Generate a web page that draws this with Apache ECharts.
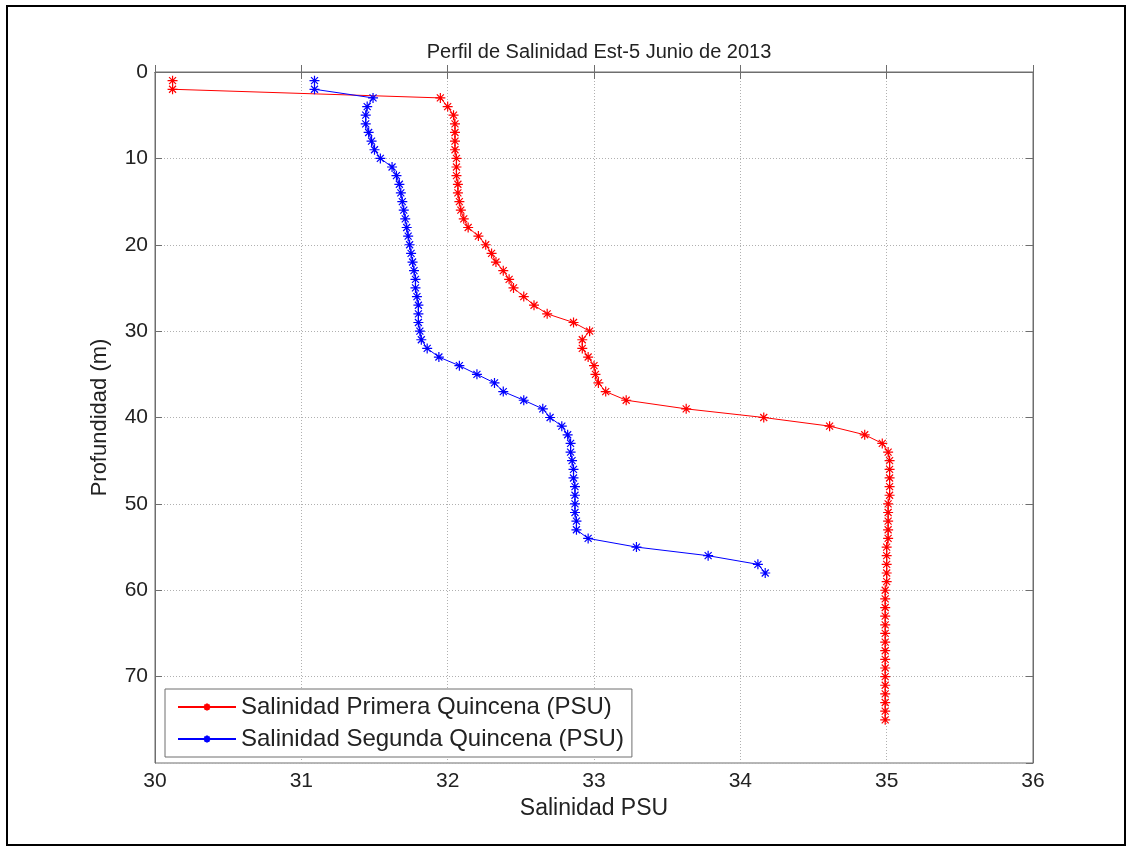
<!DOCTYPE html>
<html>
<head>
<meta charset="utf-8">
<script src="https://cdn.jsdelivr.net/npm/echarts@6/dist/echarts.min.js"></script>
<style>html,body{margin:0;padding:0;background:#fff;}#c{width:1133px;height:852px;}</style>
</head>
<body>
<div id="c"></div>
<script>
const depthPrimera = [1,2,3,4,5,6,7,8,9,10,11,12,13,14,15,16,17,18,19,20,21,22,23,24,25,26,27,28,29,30,31,32,33,34,35,36,37,38,39,40,41,42,43,44,45,46,47,48,49,50,51,52,53,54,55,56,57,58,59,60,61,62,63,64,65,66,67,68,69,70,71,72,73,74,75];
const salPrimera = [30.12,30.12,31.95,32.00,32.04,32.05,32.05,32.05,32.05,32.06,32.06,32.06,32.07,32.07,32.08,32.09,32.11,32.14,32.21,32.26,32.30,32.33,32.38,32.42,32.45,32.52,32.59,32.68,32.86,32.97,32.92,32.92,32.96,33.00,33.01,33.03,33.08,33.22,33.63,34.16,34.61,34.85,34.97,35.01,35.02,35.02,35.02,35.02,35.02,35.01,35.01,35.01,35.01,35.01,35.00,35.00,35.00,35.00,35.00,34.99,34.99,34.99,34.99,34.99,34.99,34.99,34.99,34.99,34.99,34.99,34.99,34.99,34.99,34.99,34.99];
const depthSegunda = [1,2,3,4,5,6,7,8,9,10,11,12,13,14,15,16,17,18,19,20,21,22,23,24,25,26,27,28,29,30,31,32,33,34,35,36,37,38,39,40,41,42,43,44,45,46,47,48,49,50,51,52,53,54,55,56,57,58];
const salSegunda = [31.09,31.09,31.49,31.45,31.44,31.44,31.46,31.48,31.50,31.54,31.62,31.65,31.67,31.68,31.69,31.70,31.71,31.72,31.73,31.74,31.75,31.76,31.77,31.78,31.78,31.79,31.80,31.80,31.80,31.81,31.82,31.86,31.94,32.08,32.20,32.32,32.38,32.52,32.65,32.70,32.78,32.82,32.84,32.84,32.85,32.86,32.86,32.87,32.87,32.87,32.87,32.88,32.88,32.96,33.29,33.78,34.12,34.17];
const seriesNames = ['Salinidad Primera Quincena (PSU)', 'Salinidad Segunda Quincena (PSU)'];
const titleText = 'Perfil de Salinidad Est-5 Junio de 2013';
const xName = 'Salinidad PSU';
const yName = 'Profundidad (m)';

const FONT = "'Liberation Sans', Arial, Helvetica, sans-serif";
const STAR = 'path://M0,10L20,10M10,0L10,20M3,3L17,17M17,3L3,17';
const axisColor = '#6e6e6e';
const gridLine = { show: true, lineStyle: { color: '#b0b0b0', type: [1, 2], width: 1 } };

function pairs(xs, ys) { return xs.map((v, i) => [v, ys[i]]); }

const chart = echarts.init(document.getElementById('c'), null, { renderer: 'canvas' });
chart.setOption({
  backgroundColor: '#fff',
  animation: false,
  title: {
    text: titleText, left: 594, top: 37, textAlign: 'center',
    textStyle: { fontFamily: FONT, fontSize: 20, fontWeight: 'normal', color: '#222' }
  },
  graphic: [{
    type: 'rect', shape: { x: 7, y: 6, width: 1118, height: 839 },
    style: { fill: 'none', stroke: '#000', lineWidth: 2 }, silent: true, z: 100
  }],
  grid: { left: 155, top: 72, right: 100, bottom: 89, show: true, borderColor: axisColor, borderWidth: 1, backgroundColor: '#fff' },
  legend: {
    left: 165, top: 689, orient: 'vertical',
    backgroundColor: '#fff', borderColor: axisColor, borderWidth: 1,
    padding: [6, 8, 6, 12], itemGap: 8, itemWidth: 58, itemHeight: 9,
    textStyle: { fontFamily: FONT, fontSize: 24, color: '#222', lineHeight: 22 },
    data: seriesNames
  },
  xAxis: [{
    type: 'value', min: 30, max: 36, interval: 1, position: 'bottom',
    name: xName, nameLocation: 'middle', nameGap: 34,
    nameTextStyle: { fontFamily: FONT, fontSize: 23, color: '#222' },
    axisLine: { show: true, lineStyle: { color: axisColor } },
    axisTick: { show: true, inside: true, length: 7, lineStyle: { color: axisColor } },
    axisLabel: { fontFamily: FONT, fontSize: 21, color: '#222', margin: 8 },
    splitLine: gridLine
  }, {
    type: 'value', min: 30, max: 36, interval: 1, position: 'top',
    axisLine: { show: true, lineStyle: { color: axisColor } },
    axisTick: { show: true, inside: true, length: 7, lineStyle: { color: axisColor } },
    axisLabel: { show: false }, splitLine: { show: false }
  }],
  yAxis: [{
    type: 'value', inverse: true, min: 0, max: 80, interval: 10, position: 'left',
    name: yName, nameLocation: 'middle', nameGap: 44, nameRotate: 90,
    nameTextStyle: { fontFamily: FONT, fontSize: 22, color: '#222' },
    axisLine: { show: true, lineStyle: { color: axisColor } },
    axisTick: { show: true, inside: true, length: 7, lineStyle: { color: axisColor } },
    axisLabel: { fontFamily: FONT, fontSize: 21, color: '#222', margin: 7, showMaxLabel: false },
    splitLine: gridLine
  }, {
    type: 'value', inverse: true, min: 0, max: 80, interval: 10, position: 'right',
    axisLine: { show: true, lineStyle: { color: axisColor } },
    axisTick: { show: true, inside: true, length: 7, lineStyle: { color: axisColor } },
    axisLabel: { show: false }, splitLine: { show: false }
  }],
  series: [{
    name: seriesNames[0], type: 'line', xAxisIndex: 0, yAxisIndex: 0,
    data: pairs(salPrimera, depthPrimera),
    symbol: STAR, symbolSize: 10,
    lineStyle: { color: '#ff0000', width: 1 },
    itemStyle: { color: '#ff0000', borderColor: '#ff0000', borderWidth: 1.2 },
    emphasis: { disabled: true }
  }, {
    name: seriesNames[1], type: 'line', xAxisIndex: 0, yAxisIndex: 0,
    data: pairs(salSegunda, depthSegunda),
    symbol: STAR, symbolSize: 10,
    lineStyle: { color: '#0000ff', width: 1 },
    itemStyle: { color: '#0000ff', borderColor: '#0000ff', borderWidth: 1.2 },
    emphasis: { disabled: true }
  }]
});
</script>
</body>
</html>
